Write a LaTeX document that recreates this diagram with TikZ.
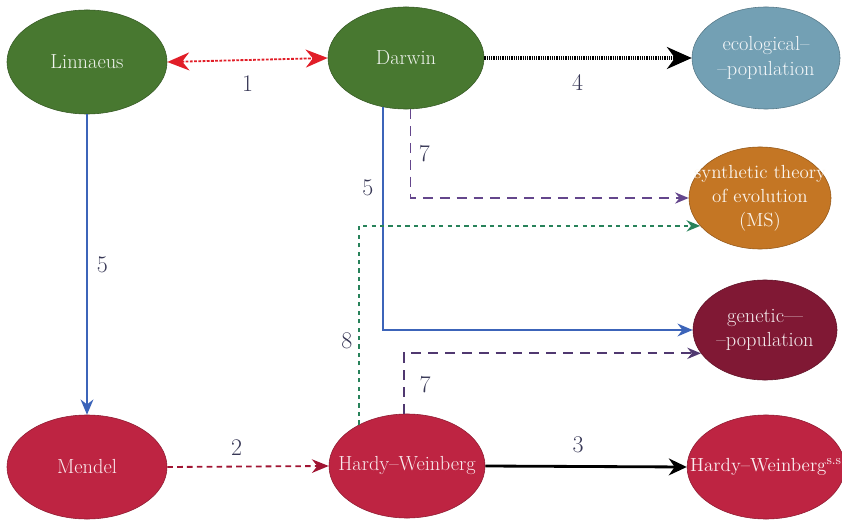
\documentclass[tikz,border=0pt]{standalone}
\usepackage{fontspec}
\setmainfont{Latin Modern Roman}
\usetikzlibrary{shapes.geometric,arrows.meta}
\definecolor{leafgreen}{RGB}{72,120,48}
\definecolor{ecoblue}{RGB}{115,160,180}
\definecolor{synorange}{RGB}{196,118,36}
\definecolor{genmaroon}{RGB}{128,24,52}
\definecolor{crimson}{RGB}{190,36,66}
\definecolor{arrred}{RGB}{225,30,40}
\definecolor{arrblue}{RGB}{60,100,185}
\definecolor{arrpurple}{RGB}{100,70,140}
\definecolor{arrgreen}{RGB}{40,130,90}
\definecolor{arrwine}{RGB}{160,20,50}
\definecolor{numgray}{RGB}{55,55,85}
\begin{document}
\begin{tikzpicture}[x=0.025cm,y=-0.025cm]
 \tikzset{person/.style={ellipse, draw=#1!75!black, fill=#1, text=white!92!#1, inner xsep=-0.5cm, inner ysep=0pt, minimum width=3.9cm, minimum height=2.6cm, align=center, font=\rmfamily\fontsize{14.5}{17.5}\selectfont}}
 \tikzset{smalltext/.style={font=\rmfamily\fontsize{13.5}{17}\selectfont}}
 \tikzset{num/.style={text=numgray, font=\rmfamily\fontsize{17}{20}\selectfont}}
 \useasboundingbox (0,0) rectangle (842,525);
  \node[person=leafgreen, minimum width=4cm] (Lin) at (87,62) {Linnaeus};
  \node[person=leafgreen, minimum height=2.55cm] (Dar) at (406,58) {Darwin};
  \node[person=ecoblue, minimum width=3.7cm, minimum height=2.55cm] (Eco) at (766,58) {ecological–\\–population};
  \node[person=synorange, smalltext, minimum width=3.55cm, minimum height=2.55cm] (Syn) at (760,198) {synthetic theory\\of evolution\\(MS)};
  \node[person=genmaroon, minimum width=3.6cm, minimum height=2.5cm] (Gen) at (765,330) {genetic—\\–population};
  \node[person=crimson, minimum width=4cm] (Men) at (87,467) {Mendel};
  \node[person=crimson] (HW) at (407,466) {Hardy–Weinberg};
  \node[person=crimson, smalltext, minimum width=3.8cm] (HWss) at (766,467) {Hardy–Weinberg\textsuperscript{s.s}};
  \draw[arrred, line width=1.3pt, dash pattern=on 2pt off 1pt, {Stealth[length=0.55cm,width=0.45cm]}-{Stealth[length=0.55cm,width=0.45cm]}] (Lin.east) -- node[num, below=7pt] {1} (Dar.west);
  \draw[black, line width=2.2pt, dash pattern=on 1pt off 0.6pt, -{Stealth[length=0.62cm,width=0.55cm]}] (Dar.east) -- node[num, below=7pt, pos=0.45] {4} (Eco.west);
  \draw[arrblue, line width=1.3pt, -{Stealth[length=0.38cm,width=0.32cm]}] (Lin.south) -- node[num, right=3pt] {5} (Men.north);
  \draw[arrwine, line width=1.3pt, dash pattern=on 4pt off 3pt, -{Stealth[length=0.42cm,width=0.34cm]}] (Men.east) -- node[num, above=4pt, pos=0.43] {2} (HW.west);
  \draw[black, line width=2pt, -{Stealth[length=0.45cm,width=0.42cm]}] (HW.east) -- node[num, above=5pt, pos=0.46] {3} (HWss.west);
  \draw[arrblue, line width=1.3pt, -{Stealth[length=0.38cm,width=0.32cm]}] (Dar.245) |- node[num, left=3pt, pos=0.18] {5} (Gen.west);
  \draw[arrpurple, line width=1.3pt, dash pattern=on 7pt off 5pt, -{Stealth[length=0.34cm,width=0.28cm]}] (Dar.275) |- node[num, right=2pt, pos=0.25] {7} (Syn.west);
  \draw[arrgreen, line width=1.3pt, dash pattern=on 3pt off 3pt, -{Stealth[length=0.34cm,width=0.28cm]}] (HW.139) |- node[num, left=1pt, pos=0.21] {8} (Syn.205);
  \draw[arrpurple!80!black, line width=1.3pt, dash pattern=on 7pt off 5pt, -{Stealth[length=0.34cm,width=0.28cm]}] (HW.93) |- node[num, right=7pt, pos=0.24] {7} (Gen.200);
\end{tikzpicture}
\end{document}
